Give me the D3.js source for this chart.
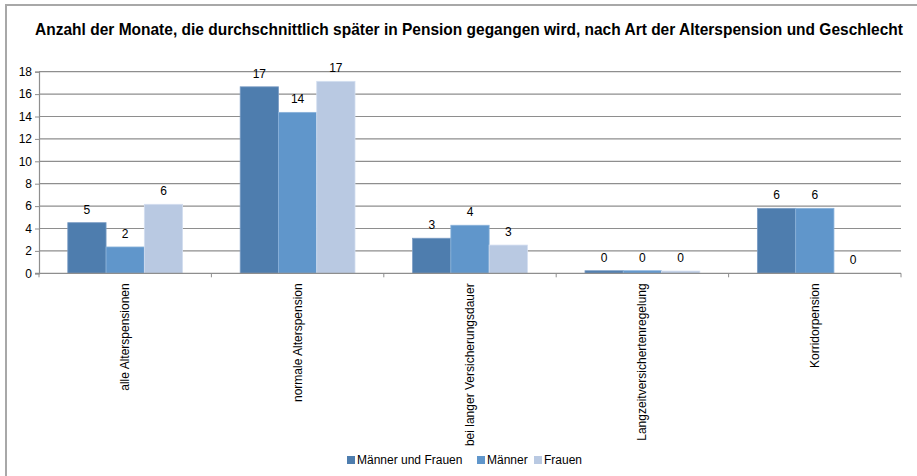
<!DOCTYPE html>
<html>
<head>
<meta charset="utf-8">
<script src="https://cdn.jsdelivr.net/npm/d3@7"></script>
<style>
  html, body { margin: 0; padding: 0; background: #fff; }
  svg { display: block; }
</style>
</head>
<body>
<svg id="chart" width="917" height="476"></svg>
<script>
// Pension categories (x axis) and series
const categories = [
  "alle Alterspensionen",
  "normale Alterspension",
  "bei langer Versicherungsdauer",
  "Langzeitversichertenregelung",
  "Korridorpension"
];
const seriesNames = ["Männer und Frauen", "Männer", "Frauen"];
const maennerUndFrauen = [4.52, 16.65, 3.13, 0.23, 5.8];
const maenner          = [2.35, 14.37, 4.29, 0.23, 5.8];
const frauen           = [6.16, 17.14, 2.52, 0.2, 0];
const yTicks = [0, 2, 4, 6, 8, 10, 12, 14, 16, 18];

const seriesValues = [maennerUndFrauen, maenner, frauen];
const colors = ["#4e7dae", "#6096cb", "#b9c9e2"];
const strokes = ["#7a9cc4", "#8ab2da", "#d3def0"];

const svg = d3.select("#chart");
const fontBody = "Arial, 'Liberation Sans', sans-serif";

// outer frame (top and left edges visible)
svg.append("rect")
  .attr("x", 6).attr("y", 5)
  .attr("width", 1000).attr("height", 1000)
  .attr("fill", "none")
  .attr("stroke", "#a8a8a8")
  .attr("stroke-width", 2);

// title: condensed horizontally to fit the available width
const title = svg.append("text")
  .attr("x", 0).attr("y", 0)
  .attr("text-anchor", "middle")
  .attr("font-family", "'Liberation Sans', Arial, sans-serif")
  .attr("font-weight", "bold")
  .attr("font-size", 16)
  .attr("fill", "#000")
  .text("Anzahl der Monate, die durchschnittlich später in Pension gegangen wird, nach Art der Alterspension und Geschlecht");
const titleW = title.node().getComputedTextLength();
const sx = titleW > 0 ? Math.min(1, 868 / titleW) : 1;
title.attr("transform", `translate(469,35) scale(${sx},1)`);

const plot = { left: 39, right: 901, top: 71.7, bottom: 273.3 };

const y = d3.scaleLinear().domain([0, 18]).range([plot.bottom, plot.top]);
const x0 = d3.scaleBand().domain(categories).range([plot.left, plot.right]).padding(0);
const bw = x0.bandwidth();
const x1 = d3.scaleBand().domain(seriesNames).range([bw * 0.167, bw * 0.833]).padding(0);

// gridlines
svg.append("g")
  .selectAll("line")
  .data(yTicks.filter(t => t > 0))
  .join("line")
  .attr("x1", plot.left).attr("x2", plot.right)
  .attr("y1", d => y(d)).attr("y2", d => y(d))
  .attr("stroke", "#8e8e8e")
  .attr("stroke-width", 1.2);

// y axis
const yAxis = d3.axisLeft(y).tickValues(yTicks).tickSize(4).tickPadding(3).tickFormat(d3.format("d"));
const gy = svg.append("g").attr("transform", `translate(${plot.left},0)`).call(yAxis);
gy.select(".domain").attr("stroke", "#8e8e8e").attr("stroke-width", 1.2);
gy.selectAll(".tick line").attr("stroke", "#8e8e8e");
gy.selectAll(".tick text")
  .attr("font-family", fontBody).attr("font-size", 12).attr("fill", "#000");

// bars
const groups = svg.append("g")
  .selectAll("g")
  .data(categories)
  .join("g")
  .attr("transform", d => `translate(${x0(d)},0)`);

groups.selectAll("rect")
  .data((c, i) => seriesNames.map((s, j) => ({ s, j, v: seriesValues[j][i] })))
  .join("rect")
  .attr("x", d => x1(d.s))
  .attr("width", x1.bandwidth())
  .attr("y", d => y(d.v))
  .attr("height", d => y(0) - y(d.v))
  .attr("fill", d => colors[d.j])
  .attr("stroke", d => d.v > 0 ? strokes[d.j] : "none")
  .attr("stroke-width", 0.8);

// value labels
groups.selectAll("text")
  .data((c, i) => seriesNames.map((s, j) => ({ s, j, v: seriesValues[j][i] })))
  .join("text")
  .attr("x", d => x1(d.s) + x1.bandwidth() / 2)
  .attr("y", d => y(d.v) - 9)
  .attr("text-anchor", "middle")
  .attr("font-family", fontBody)
  .attr("font-size", 12)
  .attr("fill", "#000")
  .text(d => d3.format(".0f")(d.v));

// x axis
const xAxis = d3.axisBottom(x0).tickSize(0).tickFormat("");
const gx = svg.append("g").attr("transform", `translate(0,${plot.bottom})`).call(xAxis);
gx.select(".domain").remove();
svg.append("line")
  .attr("x1", plot.left - 4).attr("x2", plot.right)
  .attr("y1", plot.bottom).attr("y2", plot.bottom)
  .attr("stroke", "#8e8e8e").attr("stroke-width", 1.2);
// category boundary ticks
svg.append("g")
  .selectAll("line")
  .data(categories.concat(["__end"]))
  .join("line")
  .attr("x1", (d, i) => plot.left + i * bw)
  .attr("x2", (d, i) => plot.left + i * bw)
  .attr("y1", plot.bottom).attr("y2", plot.bottom + 4)
  .attr("stroke", "#8e8e8e");

// rotated category labels
svg.append("g")
  .selectAll("text")
  .data(categories)
  .join("text")
  .attr("transform", d => `translate(${x0(d) + bw / 2 + 4},${plot.bottom + 10}) rotate(-90)`)
  .attr("text-anchor", "end")
  .attr("font-family", fontBody)
  .attr("font-size", 12)
  .attr("fill", "#000")
  .text(d => d);

// legend
const legendX = [347, 477, 534];
const legend = svg.append("g")
  .selectAll("g")
  .data(seriesNames)
  .join("g")
  .attr("transform", (d, i) => `translate(${legendX[i]},456)`);
legend.append("rect")
  .attr("width", 8).attr("height", 8)
  .attr("fill", (d, i) => colors[i]);
legend.append("text")
  .attr("x", 10).attr("y", 8)
  .attr("font-family", fontBody)
  .attr("font-size", 12)
  .attr("fill", "#000")
  .text(d => d);
</script>
</body>
</html>
